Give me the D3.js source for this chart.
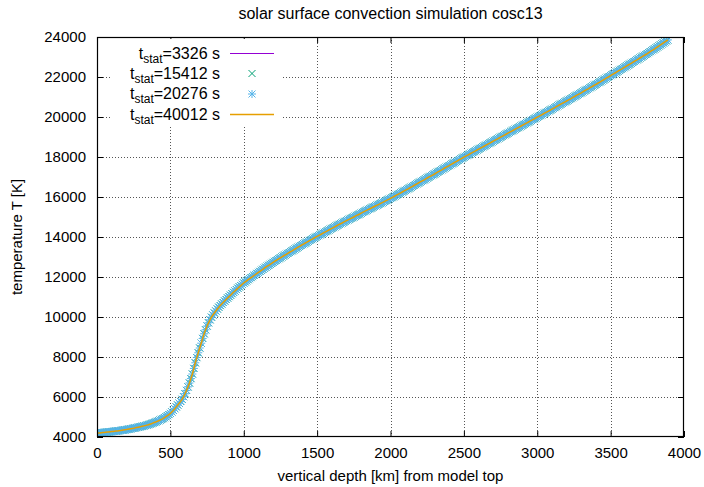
<!DOCTYPE html>
<html><head><meta charset="utf-8">
<script src="https://cdn.jsdelivr.net/npm/d3@7"></script>
<style>body{margin:0;background:#fff}svg{display:block}text{font-family:"Liberation Sans",Arial,sans-serif;fill:#000}</style>
</head><body><svg id="c" width="704" height="487"></svg>
<script>
const title = "solar surface convection simulation cosc13";
const xLabel = "vertical depth [km] from model top";
const yLabel = "temperature T [K]";
const xTicks = [0,500,1000,1500,2000,2500,3000,3500,4000];
const yTicks = [4000,6000,8000,10000,12000,14000,16000,18000,20000,22000,24000];
const seriesNames = ["3326","15412","20276","40012"];
const depth = [
0,10,20,30,40,50,60,70,80,90,100,110,120,130,140,150,160,170,180,190,
200,210,220,230,240,250,260,270,280,290,300,310,320,330,340,350,360,370,380,390,
400,410,420,430,440,450,460,470,480,490,500,510,520,530,540,550,560,570,580,590,
600,610,620,630,640,650,660,670,680,690,700,710,720,730,740,750,760,770,780,790,
800,810,820,830,840,850,860,870,880,890,900,910,920,930,940,950,960,970,980,990,
1000,1010,1020,1030,1040,1050,1060,1070,1080,1090,1100,1110,1120,1130,1140,1150,1160,1170,1180,1190,
1200,1210,1220,1230,1240,1250,1260,1270,1280,1290,1300,1310,1320,1330,1340,1350,1360,1370,1380,1390,
1400,1410,1420,1430,1440,1450,1460,1470,1480,1490,1500,1510,1520,1530,1540,1550,1560,1570,1580,1590,
1600,1610,1620,1630,1640,1650,1660,1670,1680,1690,1700,1710,1720,1730,1740,1750,1760,1770,1780,1790,
1800,1810,1820,1830,1840,1850,1860,1870,1880,1890,1900,1910,1920,1930,1940,1950,1960,1970,1980,1990,
2000,2010,2020,2030,2040,2050,2060,2070,2080,2090,2100,2110,2120,2130,2140,2150,2160,2170,2180,2190,
2200,2210,2220,2230,2240,2250,2260,2270,2280,2290,2300,2310,2320,2330,2340,2350,2360,2370,2380,2390,
2400,2410,2420,2430,2440,2450,2460,2470,2480,2490,2500,2510,2520,2530,2540,2550,2560,2570,2580,2590,
2600,2610,2620,2630,2640,2650,2660,2670,2680,2690,2700,2710,2720,2730,2740,2750,2760,2770,2780,2790,
2800,2810,2820,2830,2840,2850,2860,2870,2880,2890,2900,2910,2920,2930,2940,2950,2960,2970,2980,2990,
3000,3010,3020,3030,3040,3050,3060,3070,3080,3090,3100,3110,3120,3130,3140,3150,3160,3170,3180,3190,
3200,3210,3220,3230,3240,3250,3260,3270,3280,3290,3300,3310,3320,3330,3340,3350,3360,3370,3380,3390,
3400,3410,3420,3430,3440,3450,3460,3470,3480,3490,3500,3510,3520,3530,3540,3550,3560,3570,3580,3590,
3600,3610,3620,3630,3640,3650,3660,3670,3680,3690,3700,3710,3720,3730,3740,3750,3760,3770,3780,3790,
3800,3810,3820,3830,3840,3850,3860,3870,3880,3890];
const temperature = [
4190,4198,4206,4214,4222,4230,4238,4246,4254,4262,4270,4278,4286,4295,4305,4315,4325,4335,4346,4358,
4370,4384,4398,4412,4426,4440,4456,4472,4488,4504,4520,4538,4556,4574,4594,4615,4640,4666,4694,4722,
4750,4782,4814,4848,4884,4920,4966,5014,5066,5122,5180,5255,5330,5415,5505,5600,5690,5780,5885,6015,
6160,6330,6505,6700,6920,7150,7430,7710,7970,8210,8450,8690,8930,9160,9360,9550,9710,9860,9990,10100,
10200,10300,10400,10490,10570,10650,10725,10800,10875,10950,11020,11090,11165,11235,11300,11370,11440,11505,11570,11635,
11700,11755,11810,11865,11920,11970,12020,12075,12125,12180,12230,12280,12335,12385,12440,12490,12540,12585,12635,12680,
12730,12780,12825,12870,12915,12960,13005,13050,13095,13135,13180,13225,13270,13310,13355,13400,13445,13490,13530,13575,
13620,13660,13700,13740,13785,13830,13870,13910,13950,13990,14030,14070,14110,14150,14190,14230,14270,14310,14350,14390,
14430,14470,14510,14550,14590,14630,14665,14700,14740,14780,14820,14855,14890,14930,14965,15000,15040,15080,15115,15150,
15190,15230,15270,15305,15340,15380,15415,15450,15490,15525,15560,15595,15630,15670,15705,15740,15780,15820,15855,15890,
15930,15970,16010,16050,16090,16130,16170,16210,16250,16290,16330,16370,16410,16450,16490,16530,16575,16620,16660,16700,
16740,16780,16820,16860,16905,16950,16990,17030,17070,17110,17150,17195,17240,17280,17320,17360,17405,17450,17490,17530,
17570,17615,17660,17700,17740,17780,17825,17870,17910,17950,17990,18030,18070,18110,18150,18190,18230,18270,18310,18350,
18390,18430,18470,18510,18550,18590,18630,18670,18710,18750,18790,18830,18870,18910,18950,18990,19030,19070,19110,19150,
19190,19230,19270,19310,19350,19390,19430,19470,19510,19550,19590,19630,19670,19710,19750,19790,19830,19870,19910,19950,
19990,20030,20070,20110,20150,20190,20230,20270,20310,20350,20390,20430,20470,20515,20560,20600,20640,20680,20720,20760,
20800,20840,20880,20920,20965,21010,21050,21090,21130,21170,21210,21255,21300,21340,21380,21420,21465,21510,21550,21590,
21630,21675,21720,21760,21805,21850,21895,21940,21985,22025,22070,22115,22160,22200,22245,22290,22335,22380,22420,22465,
22510,22555,22600,22640,22685,22730,22775,22820,22860,22905,22950,22995,23040,23080,23125,23170,23220,23270,23315,23360,
23405,23455,23505,23555,23605,23655,23705,23755,23805,23855];

const svg = d3.select("#c");
const L=97, R=684, T=37, B=437;
const x = d3.scaleLinear().domain([0,4000]).range([L,R]);
const y = d3.scaleLinear().domain([4000,24000]).range([B,T]);
const data = depth.map((d,i)=>({d, t: temperature[i]}));
const fs = 15;

// grid
const g = svg.append("g");
xTicks.slice(1,-1).forEach(v=>{
  const px = Math.round(x(v))+0.5;
  g.append("line").attr("x1",px).attr("x2",px).attr("y1",T).attr("y2",B)
   .attr("stroke","#555").attr("stroke-dasharray","1,2");
});
yTicks.slice(1,-1).forEach(v=>{
  const py = Math.round(y(v))+0.5;
  g.append("line").attr("x1",L).attr("x2",R).attr("y1",py).attr("y2",py)
   .attr("stroke","#555").attr("stroke-dasharray","1,2");
});

// axes with inward ticks on all sides
const tk = 6;
svg.append("g").attr("transform",`translate(0,${B})`).call(d3.axisBottom(x).tickValues(xTicks).tickSize(-tk).tickPadding(tk+4).tickFormat(d3.format("d")))
  .call(a=>{a.select(".domain").remove(); a.selectAll("text").attr("font-size",fs).attr("font-family","Liberation Sans");});
svg.append("g").attr("transform",`translate(0,${T})`).call(d3.axisTop(x).tickValues(xTicks).tickSize(-tk).tickFormat(""))
  .call(a=>a.select(".domain").remove());
svg.append("g").attr("transform",`translate(${L},0)`).call(d3.axisLeft(y).tickValues(yTicks).tickSize(-tk).tickPadding(tk+5).tickFormat(d3.format("d")))
  .call(a=>{a.select(".domain").remove(); a.selectAll("text").attr("font-size",fs).attr("font-family","Liberation Sans");});
svg.append("g").attr("transform",`translate(${R},0)`).call(d3.axisRight(y).tickValues(yTicks).tickSize(-tk).tickFormat(""))
  .call(a=>a.select(".domain").remove());

// legend background (opaque key)
svg.append("rect").attr("x",112).attr("y",T+2).attr("width",170).attr("height",86).attr("fill","#fff");

// clip
svg.append("clipPath").attr("id","clip").append("rect").attr("x",L).attr("y",T).attr("width",R-L).attr("height",B-T);
const plot = svg.append("g").attr("clip-path","url(#clip)");
const line = d3.line().x(p=>x(p.d)).y(p=>y(p.t));
const ms = 3.5;
const crossPath = `M${-ms},${-ms}L${ms},${ms}M${-ms},${ms}L${ms},${-ms}`;
const starPath = crossPath + `M${-ms-0.5},0L${ms+0.5},0M0,${-ms-0.5}L0,${ms+0.5}`;
const colors = ["#9400d3","#009e73","#56b4e9","#e69f00"];

plot.append("path").datum(data).attr("d",line).attr("fill","none").attr("stroke",colors[0]).attr("stroke-width",1);
plot.selectAll(".s2").data(data).join("path").attr("d",crossPath).attr("transform",p=>`translate(${x(p.d)},${y(p.t)})`).attr("stroke",colors[1]).attr("fill","none");
plot.selectAll(".s3").data(data).join("path").attr("d",starPath).attr("transform",p=>`translate(${x(p.d)},${y(p.t)})`).attr("stroke",colors[2]).attr("fill","none");
plot.append("path").datum(data).attr("d",line).attr("fill","none").attr("stroke",colors[3]).attr("stroke-width",1.5);

// frame
svg.append("rect").attr("x",L+0.5).attr("y",T+0.5).attr("width",R-L-1).attr("height",B-T-1).attr("fill","none").attr("stroke","#000").attr("stroke-width",1.2);

// titles
svg.append("text").attr("x",(L+R)/2).attr("y",19).attr("text-anchor","middle").attr("font-size",fs+1).text(title);
svg.append("text").attr("x",(L+R)/2).attr("y",481).attr("text-anchor","middle").attr("font-size",fs).text(xLabel);
svg.append("text").attr("transform",`translate(22,${(T+B)/2}) rotate(-90)`).attr("text-anchor","middle").attr("font-size",fs).text(yLabel);

// legend
const rowsY = [53.5,73.5,94,114.5];
seriesNames.forEach((nm,i)=>{
  const ty = rowsY[i];
  const t = svg.append("text").attr("x",220).attr("y",ty+5).attr("text-anchor","end").attr("font-size",fs+1);
  t.append("tspan").text("t");
  t.append("tspan").attr("font-size",fs-3).attr("dy",4).text("stat");
  t.append("tspan").attr("dy",-4).text("=" + nm + " s");
  if(i===0||i===3){
    svg.append("line").attr("x1",230).attr("x2",274).attr("y1",ty).attr("y2",ty).attr("stroke",colors[i]).attr("stroke-width",i===3?1.5:1);
  } else {
    svg.append("path").attr("d",i===1?crossPath:starPath).attr("transform",`translate(252,${ty})`).attr("stroke",colors[i]).attr("fill","none");
  }
});
</script></body></html>
